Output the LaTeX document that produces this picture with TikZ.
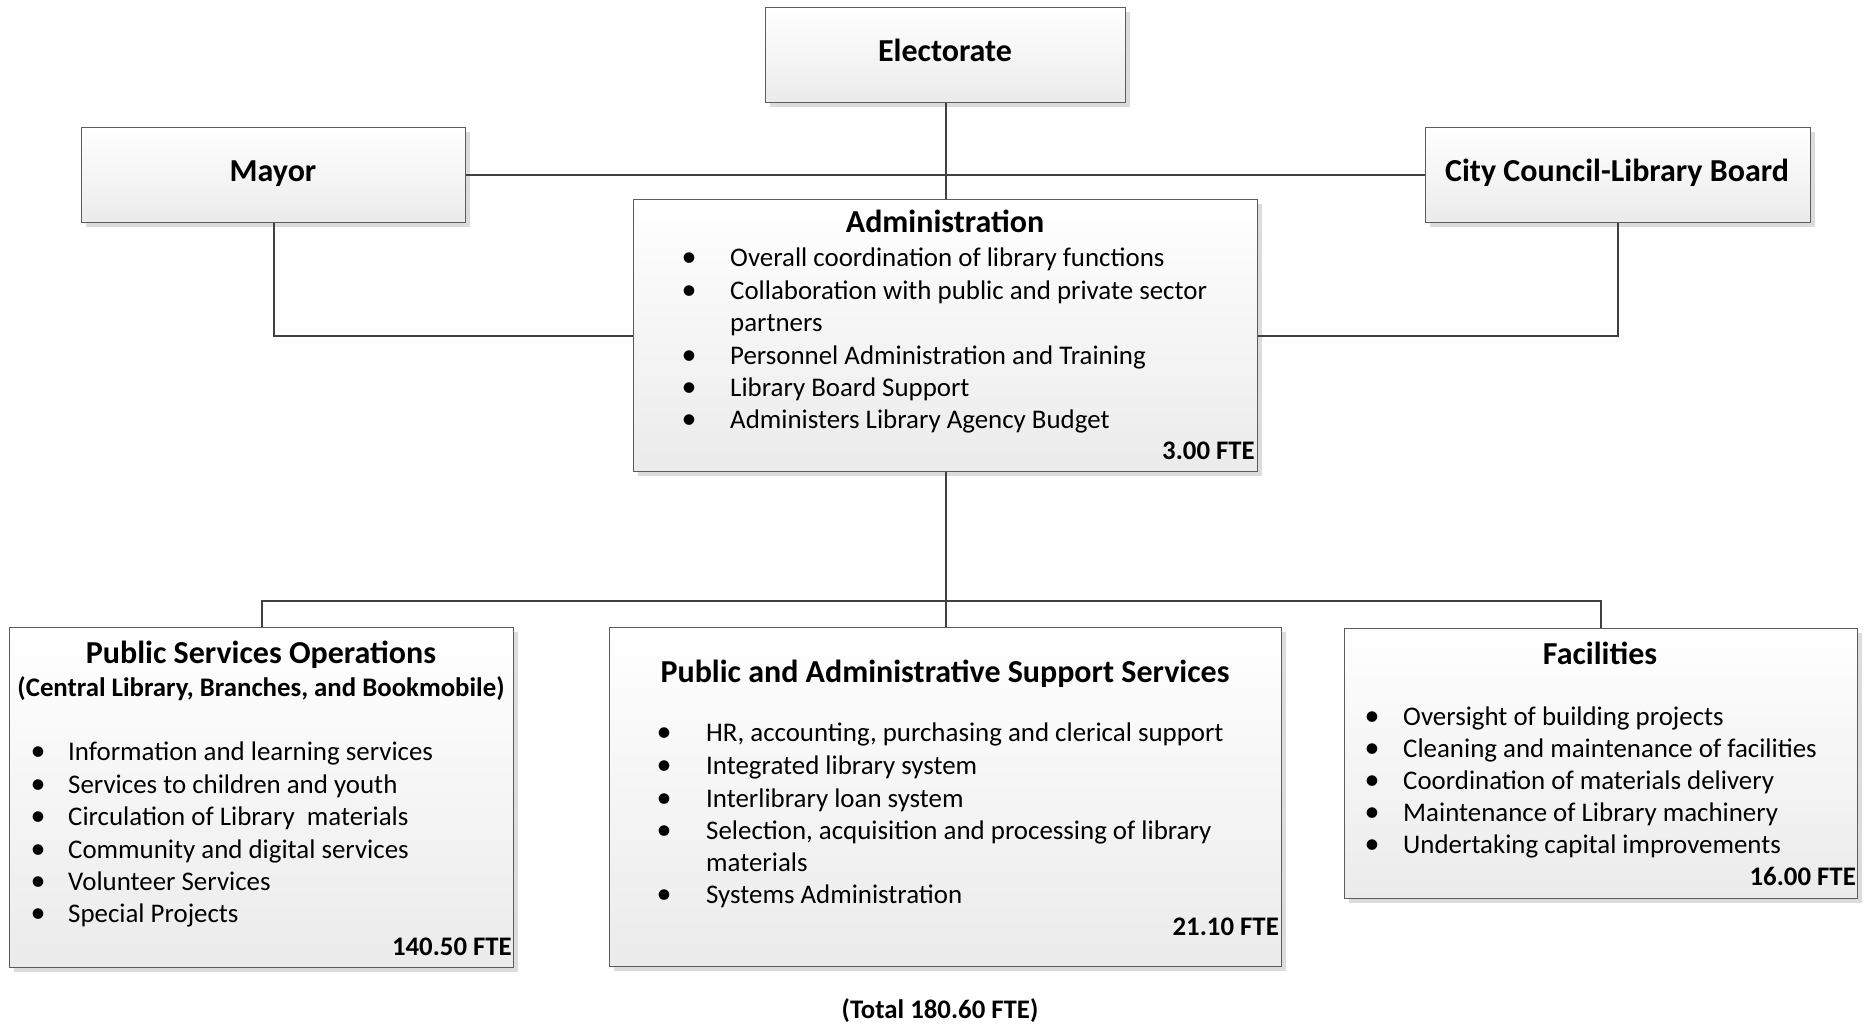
\documentclass[tikz,border=0pt]{standalone}
\usepackage{fontspec}
\setmainfont{Carlito}
\usetikzlibrary{shadows}
\definecolor{linec}{HTML}{404040}
\definecolor{boxborder}{HTML}{5C5C5C}
\definecolor{boxbot}{HTML}{EBEBEB}
\definecolor{shadowc}{HTML}{DCDCDC}
\begin{document}
\begin{tikzpicture}[x=1pt,y=-1pt,
  box/.style={draw=boxborder, line width=1.4pt, top color=white, bottom color=boxbot,
    anchor=north west, inner sep=0pt,
    drop shadow={shadow xshift=4pt, shadow yshift=-4pt, fill=shadowc, opacity=1}},
  conn/.style={draw=linec, line width=2.3pt},
  title/.style={font=\bfseries\fontsize{32}{38}\selectfont, anchor=base, inner sep=0pt, yshift=-1.5pt},
  sub/.style={font=\bfseries\fontsize{26.8}{32}\selectfont, anchor=base, inner sep=0pt, yshift=-1.5pt},
  item/.style={font=\fontsize{26.9}{32}\selectfont, anchor=base west, inner sep=0pt, yshift=-2pt},
  bul/.style={font=\fontsize{30}{32}\selectfont, anchor=base, inner sep=0pt, yshift=-2pt},
  fte/.style={font=\bfseries\fontsize{26.8}{32}\selectfont, anchor=base east, inner sep=0pt, yshift=-1.5pt}]
\useasboundingbox (0,0) rectangle (1868,1023);

% boxes
\node[box, minimum width=360pt, minimum height=95pt] (elect) at (765,7) {};
\node[box, minimum width=384pt, minimum height=95pt] (mayor) at (81,127) {};
\node[box, minimum width=385pt, minimum height=95pt] (council) at (1425,127) {};
\node[box, minimum width=624pt, minimum height=272pt] (admin) at (633,199) {};
\node[box, minimum width=504pt, minimum height=340pt] (pso) at (9,627) {};
\node[box, minimum width=672pt, minimum height=339pt] (pass) at (609,627) {};
\node[box, minimum width=513pt, minimum height=270pt] (fac) at (1344,628) {};

% connectors
\coordinate (bus) at (945,601);
\draw[conn] (elect.south) -- (admin.north);
\draw[conn] (mayor.east) -- (council.west);
\draw[conn] (mayor.south) |- (admin.west);
\draw[conn] (council.south) |- (admin.east);
\draw[conn] (admin.south) -- (pass.north);
\draw[conn] (pso.north) |- (bus) -| (fac.north);

% top texts
\node[title] (telect) at (945,60) {Electorate};
\node[title] (tmayor) at (273,180) {Mayor};
\node[title] (tcouncil) at (1617,180) {City Council-Library Board};

% administration
\node[title] (tadmin) at (945,231) {Administration};
\node[bul] (ab1) at (689,264) {•};
\node[item] (ai1) at (730,264) {Overall coordination of library functions};
\node[bul] (ab2) at (689,297) {•};
\node[item] (ai2) at (730,297) {Collaboration with public and private sector};
\node[item] (ai2b) at (730,329.5) {partners};
\node[bul] (ab3) at (689,362) {•};
\node[item] (ai3) at (730,362) {Personnel Administration and Training};
\node[bul] (ab4) at (689,394) {•};
\node[item] (ai4) at (730,394) {Library Board Support};
\node[bul] (ab5) at (689,426.5) {•};
\node[item] (ai5) at (730,426.5) {Administers Library Agency Budget};
\node[fte] (fadmin) at (1255,458) {3.00 FTE};

% public services operations
\node[title] (tpso) at (261,661.5) {Public Services Operations};
\node[sub] (spso) at (261,695) {(Central Library, Branches, and Bookmobile)};
\node[bul] (pb1) at (38,758.5) {•};
\node[item] (pi1) at (68,758.5) {Information and learning services};
\node[bul] (pb2) at (38,791) {•};
\node[item] (pi2) at (68,791) {Services to children and youth};
\node[bul] (pb3) at (38,823.5) {•};
\node[item] (pi3) at (68,823.5) {Circulation of Library\ \ materials};
\node[bul] (pb4) at (38,856) {•};
\node[item] (pi4) at (68,856) {Community and digital services};
\node[bul] (pb5) at (38,888.5) {•};
\node[item] (pi5) at (68,888.5) {Volunteer Services};
\node[bul] (pb6) at (38,920.5) {•};
\node[item] (pi6) at (68,920.5) {Special Projects};
\node[fte] (fpso) at (512,954) {140.50 FTE};

% public and administrative support services
\node[title] (tpass) at (945,681) {Public and Administrative Support Services};
\node[bul] (sb1) at (664,739.5) {•};
\node[item] (si1) at (706,739.5) {HR, accounting, purchasing and clerical support};
\node[bul] (sb2) at (664,772.5) {•};
\node[item] (si2) at (706,772.5) {Integrated library system};
\node[bul] (sb3) at (664,805) {•};
\node[item] (si3) at (706,805) {Interlibrary loan system};
\node[bul] (sb4) at (664,837) {•};
\node[item] (si4) at (706,837) {Selection, acquisition and processing of library};
\node[item] (si4b) at (706,869.5) {materials};
\node[bul] (sb5) at (664,901.5) {•};
\node[item] (si5) at (706,901.5) {Systems Administration};
\node[fte] (fpass) at (1279,933.5) {21.10 FTE};

% facilities
\node[title] (tfac) at (1600,663) {Facilities};
\node[bul] (fb1) at (1372,723) {•};
\node[item] (fi1) at (1403,723) {Oversight of building projects};
\node[bul] (fb2) at (1372,755) {•};
\node[item] (fi2) at (1403,755) {Cleaning and maintenance of facilities};
\node[bul] (fb3) at (1372,787) {•};
\node[item] (fi3) at (1403,787) {Coordination of materials delivery};
\node[bul] (fb4) at (1372,819) {•};
\node[item] (fi4) at (1403,819) {Maintenance of Library machinery};
\node[bul] (fb5) at (1372,851) {•};
\node[item] (fi5) at (1403,851) {Undertaking capital improvements};
\node[fte] (ffac) at (1856,883.5) {16.00 FTE};

% total
\node[sub] (total) at (940,1017) {(Total 180.60 FTE)};
\end{tikzpicture}
\end{document}
